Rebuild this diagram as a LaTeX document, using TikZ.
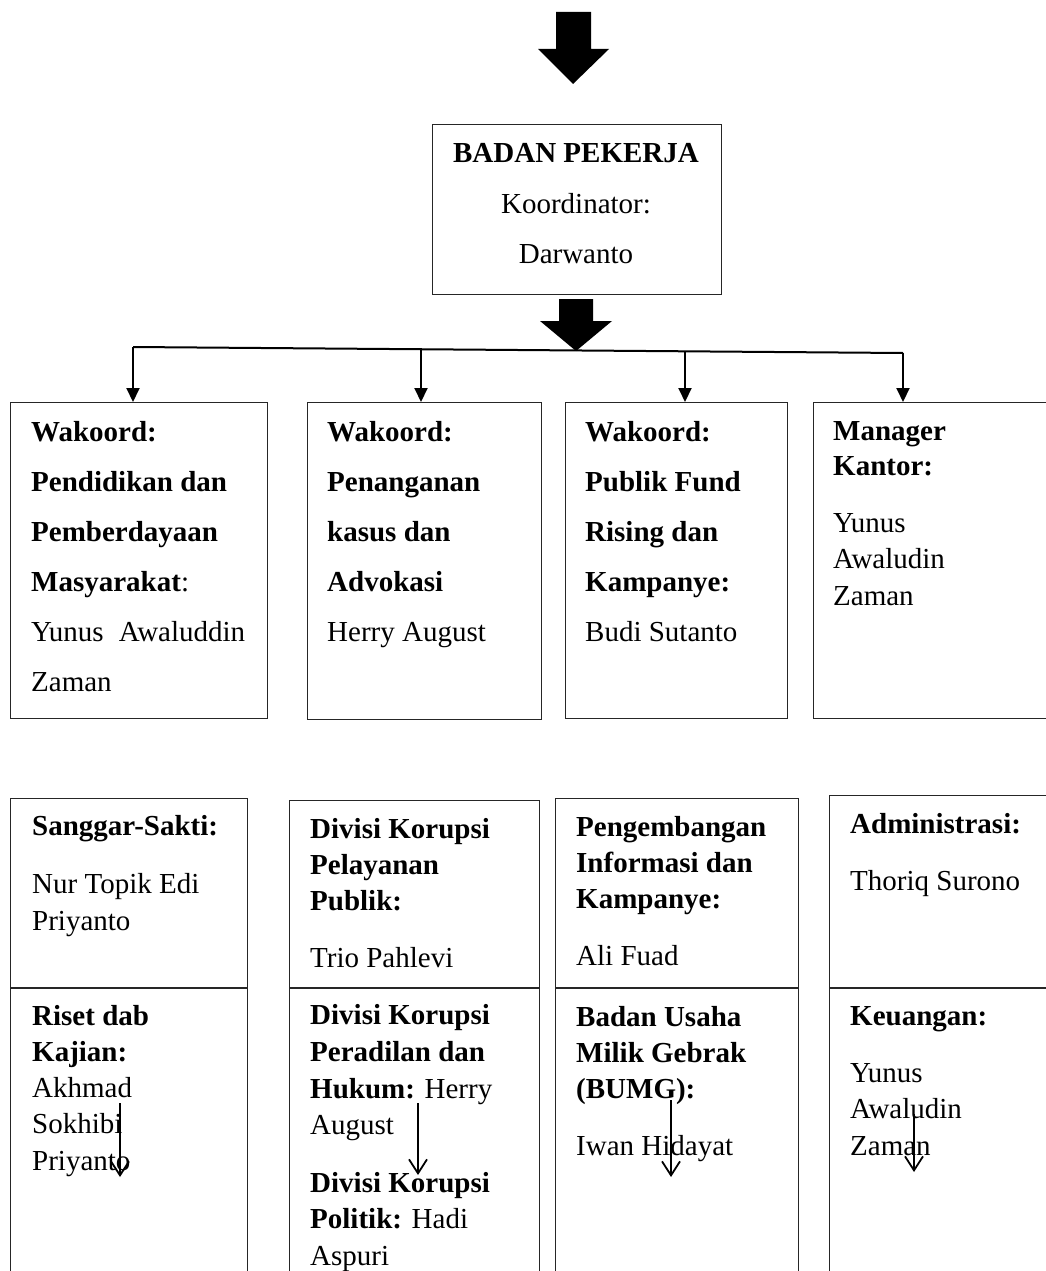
\documentclass[tikz,border=0pt]{standalone}
\usepackage{fontspec}
\setmainfont{Liberation Serif}
\usetikzlibrary{arrows.meta}
\begin{document}
\begin{tikzpicture}[x=1pt,y=-1pt,
  box/.style={draw=black!85, line width=1.4pt, anchor=north west, inner sep=0pt},
  txt/.style={anchor=base west, inner sep=0pt, font=\fontsize{29}{35}\selectfont},
  ctxt/.style={anchor=base, inner sep=0pt, font=\fontsize{29}{35}\selectfont},
  conn/.style={line width=2pt},
  tri/.style={line width=2pt, -{Triangle[length=14pt,width=13pt]}},
  barb/.style={line width=1.8pt, -{Straight Barb[length=14pt,width=18pt]}},
  blockarrow/.style={fill=black, draw=none}]
\useasboundingbox (0,0) rectangle (1046,1271);
\clip (0,0) rectangle (1046,1271);

% ---------- top block arrow and coordinator box ----------
\fill[blockarrow] (556,12) -- (591,12) -- (591,49) -- (609,49) -- (573,84) -- (538,49) -- (556,49) -- cycle;
\node[box, minimum width=289pt, minimum height=170pt] (bp) at (432,124) {};
\node[ctxt] (bp1) at (576,162) {\textbf{BADAN PEKERJA}};
\node[ctxt] (bp2) at (576,213) {Koordinator:};
\node[ctxt] (bp3) at (576,263) {Darwanto};

% ---------- row 1 boxes ----------
\node[box, minimum width=257pt, minimum height=316pt] (w1) at (10,402) {};
\node[box, minimum width=234pt, minimum height=317pt] (w2) at (307,402) {};
\node[box, minimum width=222pt, minimum height=316pt] (w3) at (565,402) {};
\node[box, minimum width=260pt, minimum height=316pt] (w4) at (813,402) {};

% second block arrow from coordinator box to the bar
\coordinate (hl) at (133,347);
\coordinate (hr) at (903,353);
\coordinate (hm) at (576,351);
\fill[blockarrow] (559,299) -- (593,299) -- (593,321) -- (612,321) -- (hm) -- (540,321) -- (559,321) -- cycle;

\draw[conn] (hl) -- (hr);
\coordinate (j2) at (421,348.3);
\coordinate (j3) at (685,351.3);
\draw[tri] (hl) -- (hl |- w1.north);
\draw[tri] (j2) -- (j2 |- w2.north);
\draw[tri] (j3) -- (j3 |- w3.north);
\draw[tri] (hr) -- (hr |- w4.north);

% row 1 texts
\node[txt] (w1a) at (31,441.7) {\textbf{Wakoord:}};
\node[txt] (w1b) at (31,491) {\textbf{Pendidikan dan}};
\node[txt] (w1c) at (31,541) {\textbf{Pemberdayaan}};
\node[txt] (w1d) at (31,591) {\textbf{Masyarakat}:};
\node[txt] (w1e) at (31,641) {\makebox[214pt][s]{Yunus Awaluddin}};
\node[txt] (w1f) at (31,691) {Zaman};

\node[txt] (w2a) at (327,441.7) {\textbf{Wakoord:}};
\node[txt] (w2b) at (327,491) {\textbf{Penanganan}};
\node[txt] (w2c) at (327,541) {\textbf{kasus dan}};
\node[txt] (w2d) at (327,591) {\textbf{Advokasi}};
\node[txt] (w2e) at (327,641) {Herry August};

\node[txt] (w3a) at (585,441.7) {\textbf{Wakoord:}};
\node[txt] (w3b) at (585,491) {\textbf{Publik Fund}};
\node[txt] (w3c) at (585,541) {\textbf{Rising dan}};
\node[txt] (w3d) at (585,591) {\textbf{Kampanye:}};
\node[txt] (w3e) at (585,641) {Budi Sutanto};

\node[txt] (w4a) at (833,440) {\textbf{Manager}};
\node[txt] (w4b) at (833,475) {\textbf{Kantor:}};
\node[txt] (w4c) at (833,532) {Yunus};
\node[txt] (w4d) at (833,568) {Awaludin};
\node[txt] (w4e) at (833,605) {Zaman};

% ---------- row 2 boxes ----------
\node[box, minimum width=237pt, minimum height=189pt] (s1t) at (10,798) {};
\node[box, minimum width=237pt, minimum height=300pt] (s1b) at (10,988) {};
\node[box, minimum width=250pt, minimum height=187pt] (s2t) at (289,800) {};
\node[box, minimum width=250pt, minimum height=300pt] (s2b) at (289,988) {};
\node[box, minimum width=243pt, minimum height=189pt] (s3t) at (555,798) {};
\node[box, minimum width=243pt, minimum height=300pt] (s3b) at (555,988) {};
\node[box, minimum width=240pt, minimum height=192pt] (s4t) at (829,795) {};
\node[box, minimum width=240pt, minimum height=300pt] (s4b) at (829,988) {};

% column 1
\node[txt] (c1a) at (32,835) {\textbf{Sanggar-Sakti:}};
\node[txt] (c1b) at (32,893) {Nur Topik Edi};
\node[txt] (c1c) at (32,930) {Priyanto};
\node[txt] (c1d) at (32,1025) {\textbf{Riset dab}};
\node[txt] (c1e) at (32,1061) {\textbf{Kajian:}};
\node[txt] (c1f) at (32,1097) {Akhmad};
\node[txt] (c1g) at (32,1133) {Sokhibi};
\node[txt] (c1h) at (32,1170) {Priyanto};

% column 2
\node[txt] (c2a) at (310,838) {\textbf{Divisi Korupsi}};
\node[txt] (c2b) at (310,874) {\textbf{Pelayanan}};
\node[txt] (c2c) at (310,910) {\textbf{Publik:}};
\node[txt] (c2d) at (310,967) {Trio Pahlevi};
\node[txt] (c2e) at (310,1024) {\textbf{Divisi Korupsi}};
\node[txt] (c2f) at (310,1061) {\textbf{Peradilan dan}};
\node[txt] (c2g) at (310,1098) {\textbf{Hukum:} Herry};
\node[txt] (c2h) at (310,1134) {August};
\node[txt] (c2i) at (310,1192) {\textbf{Divisi Korupsi}};
\node[txt] (c2j) at (310,1228) {\textbf{Politik:} Hadi};
\node[txt] (c2k) at (310,1265) {Aspuri};

% column 3
\node[txt] (c3a) at (576,836) {\textbf{Pengembangan}};
\node[txt] (c3b) at (576,872) {\textbf{Informasi dan}};
\node[txt] (c3c) at (576,908) {\textbf{Kampanye:}};
\node[txt] (c3d) at (576,965) {Ali Fuad};
\node[txt] (c3e) at (576,1026) {\textbf{Badan Usaha}};
\node[txt] (c3f) at (576,1062) {\textbf{Milik Gebrak}};
\node[txt] (c3g) at (576,1098) {\textbf{(BUMG):}};
\node[txt] (c3h) at (576,1155) {Iwan Hidayat};

% column 4
\node[txt] (c4a) at (850,833) {\textbf{Administrasi:}};
\node[txt] (c4b) at (850,890) {Thoriq Surono};
\node[txt] (c4c) at (850,1025) {\textbf{Keuangan:}};
\node[txt] (c4d) at (850,1082) {Yunus};
\node[txt] (c4e) at (850,1118) {Awaludin};
\node[txt] (c4f) at (850,1155) {Zaman};

% thin open arrows inside lower boxes
\coordinate (a1s) at (120,1103); \coordinate (a1e) at (120,1177);
\coordinate (a2s) at (418,1103); \coordinate (a2e) at (418,1175);
\coordinate (a3s) at (671,1100); \coordinate (a3e) at (671,1177);
\coordinate (a4s) at (914,1114); \coordinate (a4e) at (914,1172);
\draw[barb] (a1s) -- (a1e);
\draw[barb] (a2s) -- (a2e);
\draw[barb] (a3s) -- (a3e);
\draw[barb] (a4s) -- (a4e);
\end{tikzpicture}
\end{document}
